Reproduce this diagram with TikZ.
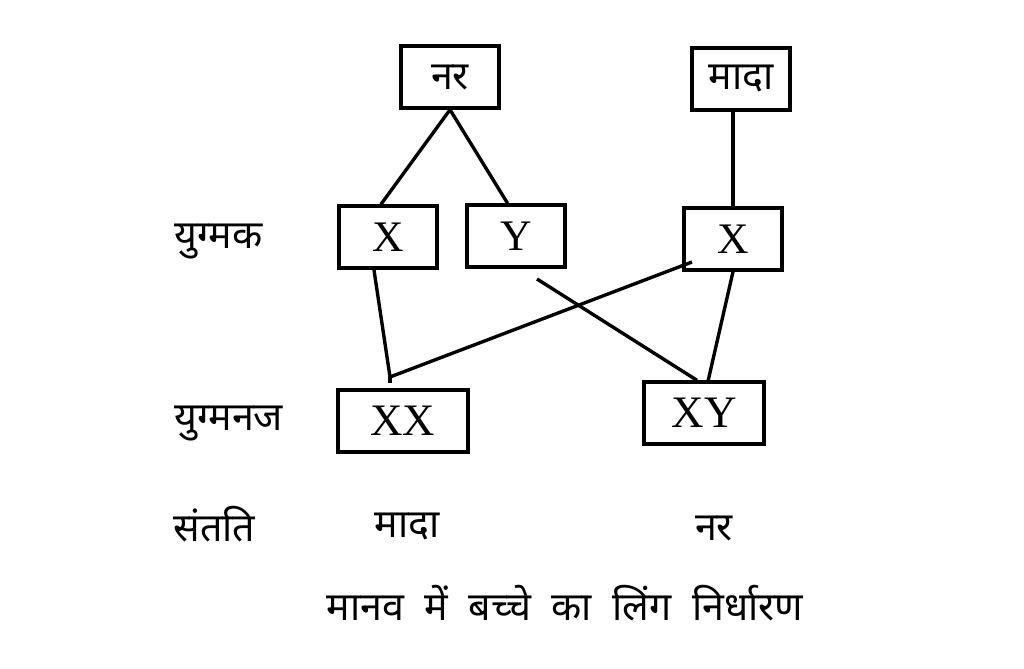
\documentclass[tikz,border=0pt]{standalone}
\usepackage{fontspec}
\setmainfont{Liberation Serif}
\newfontfamily\hindi[Script=Devanagari]{Noto Sans}
\usepackage{tikz}
\usetikzlibrary{positioning}

\begin{document}
\begin{tikzpicture}[x=0.025cm, y=-0.025cm, line width=2.4pt,
        cell/.style={draw, line width=2.4pt, minimum width=2.45cm, minimum height=1.55cm, inner sep=0pt},
        word/.style={font=\hindi\fontsize{28}{32}\selectfont, inner sep=0pt},
        letter/.style={font=\fontsize{31}{35}\selectfont}]
    \useasboundingbox (0,0) rectangle (1024,669);

    \node[cell, word] (nar) at (450,77) {नर};
    \node[cell, word] (mada) at (741,79) {मादा};
    \node[cell, letter] (xa) at (388,237) {X};
    \node[cell, letter] (ya) at (516,236) {Y};
    \node[cell, letter] (xb) at (733,239) {X};
    \node[cell, letter, minimum width=3.25cm, font=\fontsize{32}{36}\selectfont] (xx) at (403,421) {XX};
    \node[cell, letter, minimum width=3.0cm, font=\fontsize{32}{36}\selectfont] (xy) at (704,413) {XY};

    \node[word, anchor=west] (yugmak) at (173,242) {युग्मक};
    \node[word, anchor=west] (yugmanaj) at (173,424) {युग्मनज};
    \node[word, anchor=west] (santati) at (172,524) {संतति};
    \node[word] (fem) at (407,527) {मादा};
    \node[word] (male) at (714,528) {नर};
    \node[word] (caption) at (565,603) {मानव\ \ में\ \ बच्चे\ \ का\ \ लिंग\ \ निर्धारण};

    \coordinate (meet) at (390,377);
    \coordinate (stub) at (390,383);
    \coordinate (xbin) at (692,262);
    \coordinate (ytail) at (537,279);

    \draw (nar.south) -- ([xshift=-5pt]xa.north);
    \draw (nar.south) -- ([xshift=-6pt]ya.north);
    \draw (xb.north) -- (xb.north |- mada.south);
    \draw ([xshift=-10pt]xa.south) -- (meet) -- (xbin);
    \draw (meet) -- (stub);
    \draw (ytail) -- ([xshift=-5pt]xy.north);
    \draw (xb.south) -- ([xshift=3pt]xy.north);
\end{tikzpicture}
\end{document}
